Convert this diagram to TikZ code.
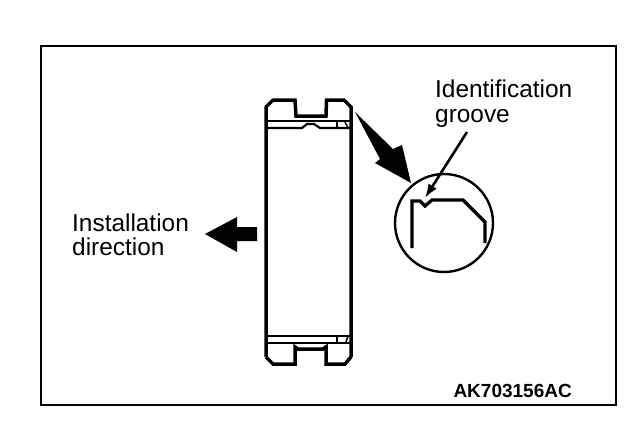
\documentclass[tikz,border=0pt]{standalone}
\usepackage{fontspec}
\setmainfont{Liberation Sans}
\usetikzlibrary{arrows.meta}
\tikzset{
  lab/.style={inner sep=0pt,anchor=base west,font=\fontsize{24.4}{28}\selectfont,align=left},
  code/.style={inner sep=0pt,anchor=base east,font=\bfseries\fontsize{19}{22}\selectfont},
  heavy/.style={line width=3.5pt,line join=miter},
  inner part/.style={line width=3.3pt,line join=miter},
  thin part/.style={line width=2.2pt},
  fine part/.style={line width=1.5pt}
}
\begin{document}
\begin{tikzpicture}[x=1pt,y=-1pt]
\useasboundingbox (0,0) rectangle (640,428);
\fill[white] (0,0) rectangle (640,428);
\draw[line width=2.2pt] (41,46) rectangle (616,405);
% bearing
\draw[heavy] (266,357) -- (266,107) -- (273,100) -- (295,100) -- (296,116) -- (326,116) -- (326.5,100) -- (344,100) -- (351,107) -- (351,357);
\draw[heavy] (266,357) -- (273,364) -- (295,364) -- (295,347) -- (298,349) -- (323,349) -- (326,347) -- (326,364) -- (345,364) -- (351,357);
\draw[thin part] (266,121) -- (351,121);
\draw[thin part] (266,128) -- (302,128) -- (307,124) -- (314,124) -- (320,128) -- (351,128);
\draw[fine part] (337,121) -- (337,128);
\draw[fine part] (345,122) -- (348,128);
\draw[thin part] (266,336) -- (351,336);
\draw[thin part] (266,343) -- (351,343);
\draw[fine part] (337,336) -- (337,343);
\draw[fine part] (346,342) -- (348,336);
% big arrow
\fill (355,112) -- (393,149) -- (402,145) -- (411,183) -- (375,163) -- (380,159) -- cycle;
% detail circle
\draw[line width=2.4pt] (444,223) circle (49);
\draw[inner part] (412,248) -- (412,201) -- (420,201) -- (425,206) -- (432,200) -- (463,200) -- (485,222) -- (485,243);
% leader
\coordinate (leadstart) at (467,132);
\coordinate (leadend) at (425,198);
\draw[line width=2.6pt,-{Latex[length=14pt,width=10pt]}] (leadstart) -- (leadend);
% left arrow
\fill (205,234) -- (237,217) -- (237,227) -- (257,227) -- (257,241) -- (237,241) -- (237,252) -- cycle;
% texts
\node[lab] (idlabel) at (435,98) {Identification};
\node[lab] (grlabel) at (435,122) {groove};
\node[lab] (inslabel) at (72,231) {Installation};
\node[lab] (dirlabel) at (72,255) {direction};
\node[code] (codelabel) at (572,397) {AK703156AC};
\end{tikzpicture}
\end{document}
